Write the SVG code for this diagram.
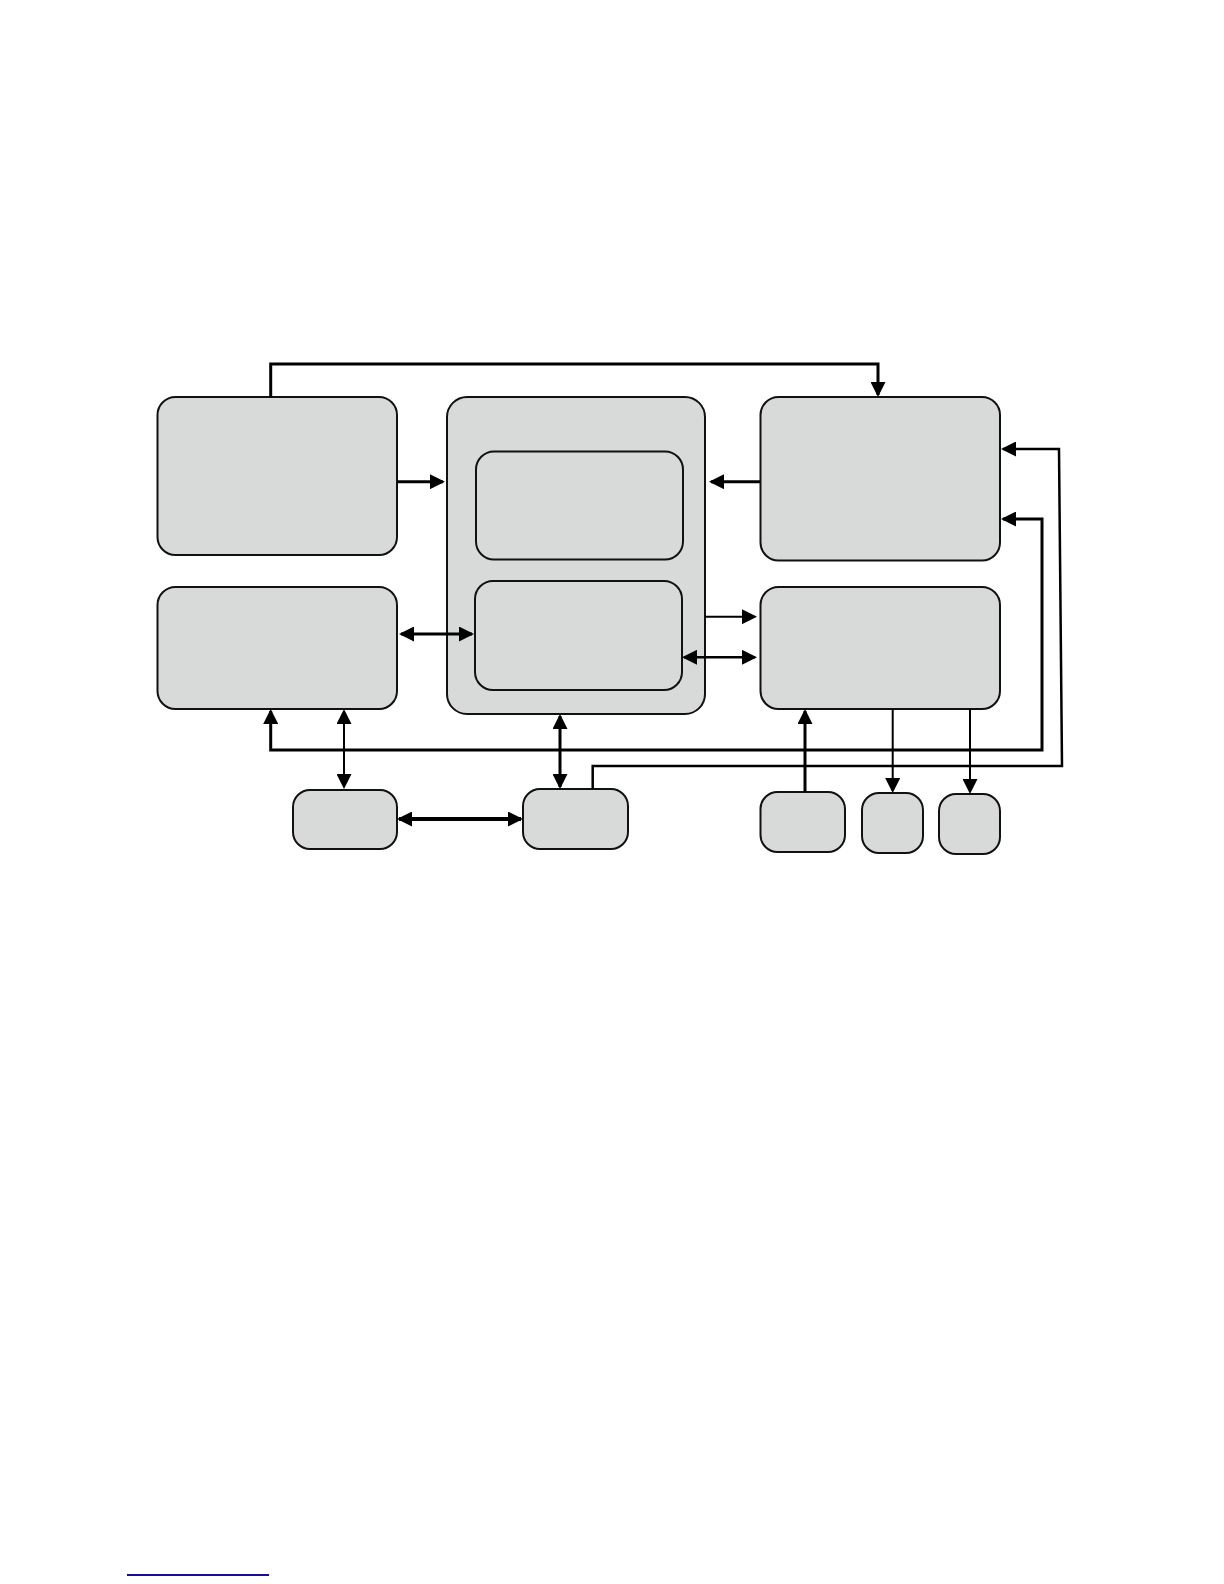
<svg xmlns="http://www.w3.org/2000/svg" width="1224" height="1584" viewBox="0 0 1224 1584">
<style>
.box{fill:#d8d9d9;stroke:#111;stroke-width:2}
.c{fill:none;stroke:#000;stroke-linejoin:miter}
.w2{stroke-width:2}
.w25{stroke-width:2.5}
.w3{stroke-width:3}
.w4{stroke-width:4}
.a{marker-end:url(#ah)}
.aa{marker-start:url(#ah);marker-end:url(#ah)}
</style>
<defs>
<marker id="ah" markerUnits="userSpaceOnUse" markerWidth="15" markerHeight="15" viewBox="0 0 15 15" refX="13" refY="7.5" orient="auto-start-reverse">
<path d="M0,0 L15,7.5 L0,15 z" fill="#000"/>
</marker>
</defs>
<rect width="1224" height="1584" fill="#fff"/>
<g id="nodes">
<g id="nodeA"><rect class="box" x="157.5" y="397" width="239.5" height="158" rx="18"/></g>
<g id="nodeB"><rect class="box" x="157.5" y="587" width="239.5" height="122" rx="18"/></g>
<g id="nodeC"><rect class="box" x="447" y="397" width="258" height="317" rx="20"/></g>
<g id="nodeC1"><rect class="box" x="476" y="451.5" width="207" height="108" rx="18"/></g>
<g id="nodeC2"><rect class="box" x="475" y="581" width="207" height="109" rx="18"/></g>
<g id="nodeD"><rect class="box" x="760.5" y="397" width="239.5" height="163.5" rx="18"/></g>
<g id="nodeE"><rect class="box" x="760.5" y="587" width="239.5" height="122" rx="18"/></g>
<g id="nodeF"><rect class="box" x="293" y="790" width="104" height="59" rx="17"/></g>
<g id="nodeG"><rect class="box" x="523" y="789" width="105" height="60" rx="17"/></g>
<g id="nodeH"><rect class="box" x="760.5" y="792" width="84.5" height="60" rx="17"/></g>
<g id="nodeI"><rect class="box" x="862" y="793" width="61" height="60" rx="17"/></g>
<g id="nodeJ"><rect class="box" x="939" y="794" width="61" height="60" rx="17"/></g>
</g>
<g id="connectors">
<path class="c w3 a" d="M270.7,397 V364 H878 V395"/>
<path class="c w3 a" d="M397,481.7 H443"/>
<path class="c w3 a" d="M760,481.7 H711"/>
<path class="c w3 aa" d="M401,634 H472"/>
<path class="c w2 a" d="M705,616.7 H755"/>
<path class="c w25 aa" d="M684,657.3 H755"/>
<path class="c w3 aa" d="M270.7,711 V750 H1042 V519 H1003"/>
<path class="c w2 aa" d="M344,711 V787"/>
<path class="c w3 aa" d="M560,716 V787"/>
<path class="c w25 a" d="M592.7,789 V766 H1062 L1059,449 H1003"/>
<path class="c w4 aa" d="M399,819 H521"/>
<path class="c w3 a" d="M805,792 V711"/>
<path class="c w2 a" d="M892.7,709 V791"/>
<path class="c w2 a" d="M970,709 V792"/>
</g>
<line x1="127" y1="1575" x2="269" y2="1575" stroke="#10109a" stroke-width="2"/>
</svg>
